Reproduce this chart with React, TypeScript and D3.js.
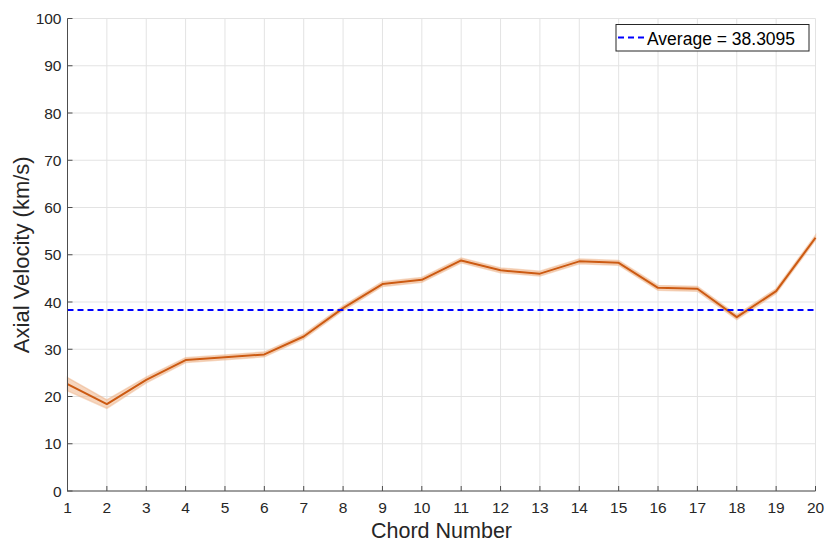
import React from "react";
import * as d3 from "d3";

// Axial velocity per chord, with the half-width of the shaded spread band
const chords = d3.range(1, 21);
const velocity = [22.6, 18.4, 23.5, 27.7, 28.3, 28.9, 32.7, 38.7, 43.8, 44.7, 48.8, 46.7, 46.0, 48.6, 48.3, 43.0, 42.8, 36.8, 42.3, 53.6];
const spread = [1.4, 0.9, 0.6, 0.5, 0.5, 0.5, 0.5, 0.5, 0.5, 0.5, 0.5, 0.5, 0.5, 0.5, 0.5, 0.5, 0.5, 0.5, 0.5, 0.5];
const averageVelocity = 38.3095;
const yTicks = d3.range(0, 101, 10);

const W = 827;
const H = 542;
const M = { left: 67.5, right: 11.5, top: 18.5, bottom: 51 };
const FONT = "'Liberation Sans', Arial, Helvetica, sans-serif";
const AXIS = "#4d4d4d";
const TEXT = "#262626";

export default function App() {
  const x = d3.scaleLinear().domain([1, 20]).range([M.left, W - M.right]);
  const y = d3.scaleLinear().domain([0, 100]).range([H - M.bottom, M.top]);

  const pts = chords.map((c, i) => ({ c, v: velocity[i], s: spread[i] }));
  const line = d3.line<typeof pts[number]>().x((d) => x(d.c)).y((d) => y(d.v));
  const band = d3
    .area<typeof pts[number]>()
    .x((d) => x(d.c))
    .y0((d) => y(d.v - d.s))
    .y1((d) => y(d.v + d.s));

  const x0 = x(1);
  const x1 = x(20);
  const y0 = y(0);
  const y1 = y(100);

  const legendX = 616;
  const legendY = 24.5;
  const legendLabel = `Average = ${averageVelocity}`;

  return (
    <div style={{ position: "fixed", left: 0, top: 0 }}>
      <svg width={W} height={H} style={{ display: "block", background: "#fff" }} fontFamily={FONT}>
        {/* grid */}
        <g stroke="#e3e3e3" strokeWidth={1}>
          {chords.map((c) => (
            <line key={"gx" + c} x1={x(c)} x2={x(c)} y1={y0} y2={y1} />
          ))}
          {yTicks.map((t) => (
            <line key={"gy" + t} x1={x0} x2={x1} y1={y(t)} y2={y(t)} />
          ))}
        </g>

        {/* spread band and velocity line */}
        <path d={band(pts) ?? ""} fill="#eeb48a" fillOpacity={0.55} stroke="#eeb48a" strokeOpacity={0.5} strokeWidth={1.5} />
        <path d={line(pts) ?? ""} fill="none" stroke="#cc5a12" strokeWidth={2} strokeLinejoin="round" />

        {/* average line */}
        <line
          x1={x0}
          x2={x1}
          y1={y(averageVelocity)}
          y2={y(averageVelocity)}
          stroke="#0000ff"
          strokeWidth={2}
          strokeDasharray="6 4"
        />

        {/* axes */}
        <g stroke={AXIS} strokeWidth={1} fill="none">
          <line x1={x0} x2={x0} y1={y0 + 0.5} y2={y1} />
          <line x1={x0} x2={x1} y1={y0} y2={y0} />
          {yTicks.map((t) => (
            <line key={"ty" + t} x1={x0} x2={x0 + 5} y1={y(t)} y2={y(t)} />
          ))}
          {chords.map((c) => (
            <line key={"tx" + c} x1={x(c)} x2={x(c)} y1={y0} y2={y0 - 5} />
          ))}
        </g>

        {/* tick labels */}
        <g fill={TEXT} fontSize={15.5}>
          {yTicks.map((t) => (
            <text key={"ly" + t} x={x0 - 6} y={y(t)} textAnchor="end" dominantBaseline="central">
              {t}
            </text>
          ))}
          {chords.map((c) => (
            <text key={"lx" + c} x={x(c)} y={y0 + 21.5} textAnchor="middle">
              {c}
            </text>
          ))}
        </g>

        {/* axis titles */}
        <text x={(x0 + x1) / 2} y={538} textAnchor="middle" fontSize={21.5} fill={TEXT}>
          Chord Number
        </text>
        <text
          transform={`translate(29, ${(y0 + y1) / 2}) rotate(-90)`}
          textAnchor="middle"
          fontSize={22}
          fill={TEXT}
        >
          Axial Velocity (km/s)
        </text>

        {/* legend */}
        <g>
          <rect x={legendX} y={legendY} width={193} height={26.5} fill="#fff" stroke="#262626" strokeWidth={1} />
          <line
            x1={legendX + 2}
            x2={legendX + 30}
            y1={legendY + 13}
            y2={legendY + 13}
            stroke="#0000ff"
            strokeWidth={2}
            strokeDasharray="6 4"
          />
          <text x={legendX + 31} y={legendY + 20} fontSize={17.5} fill="#000">
            {legendLabel}
          </text>
        </g>
      </svg>
    </div>
  );
}
